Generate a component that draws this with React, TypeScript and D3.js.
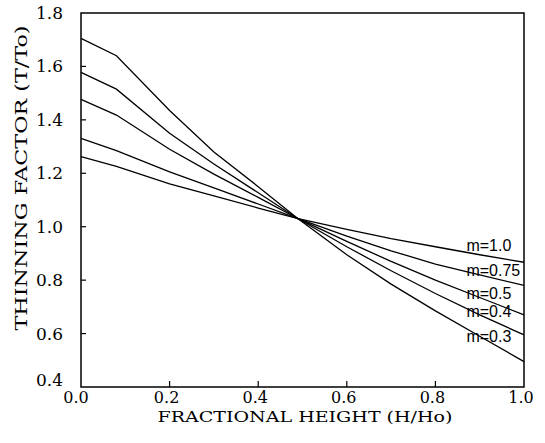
import React, { useRef, useEffect } from "react";
import * as d3 from "d3";

const heights = [0, 0.08, 0.2, 0.3, 0.4, 0.49, 0.6, 0.7, 0.8, 0.9, 1.0];

const m10 = [1.262, 1.226, 1.16, 1.115, 1.07, 1.03, 0.99, 0.955, 0.925, 0.895, 0.867];
const m075 = [1.331, 1.285, 1.205, 1.145, 1.085, 1.03, 0.965, 0.91, 0.86, 0.82, 0.78];
const m05 = [1.477, 1.418, 1.29, 1.197, 1.11, 1.03, 0.945, 0.87, 0.8, 0.735, 0.67];
const m04 = [1.578, 1.515, 1.35, 1.235, 1.127, 1.03, 0.925, 0.835, 0.75, 0.67, 0.595];
const m03 = [1.705, 1.64, 1.435, 1.28, 1.15, 1.03, 0.895, 0.785, 0.685, 0.59, 0.495];

const seriesNames = ["m=1.0", "m=0.75", "m=0.5", "m=0.4", "m=0.3"];
const labelValues = [0.93, 0.838, 0.752, 0.684, 0.59];

const xTicks = [0, 0.2, 0.4, 0.6, 0.8, 1.0];
const yTicks = [0.4, 0.6, 0.8, 1.0, 1.2, 1.4, 1.6, 1.8];

const App = () => {
  const width = 545;
  const height = 443;
  const margin = { top: 13, bottom: 56, right: 21, left: 81 };
  const plotWidth = width - margin.left - margin.right;
  const plotHeight = height - margin.top - margin.bottom;

  const svgRef = useRef<SVGSVGElement>(null);

  useEffect(() => {
    if (!svgRef.current) return;
    const svg = d3.select(svgRef.current);
    svg.selectAll("*").remove();

    const x = d3.scaleLinear([0, 1], [0, plotWidth]);
    const y = d3.scaleLinear([0.4, 1.8], [plotHeight, 0]);

    const g = svg
      .append("g")
      .attr("transform", `translate(${margin.left}, ${margin.top})`);

    // inward ticks, left and bottom only
    g.append("g")
      .selectAll("line")
      .data(yTicks.slice(1, -1))
      .join("line")
      .attr("x1", 0)
      .attr("x2", 5)
      .attr("y1", (d) => y(d))
      .attr("y2", (d) => y(d))
      .attr("stroke", "black")
      .attr("stroke-width", 1.2);

    g.append("g")
      .selectAll("line")
      .data(xTicks.slice(1, -1))
      .join("line")
      .attr("x1", (d) => x(d))
      .attr("x2", (d) => x(d))
      .attr("y1", plotHeight)
      .attr("y2", plotHeight - 6)
      .attr("stroke", "black")
      .attr("stroke-width", 1.2);

    const all = [m10, m075, m05, m04, m03];
    const line = d3
      .line<number>()
      .x((d, i) => x(heights[i]))
      .y((d) => y(d));

    g.append("g")
      .selectAll("path")
      .data(all)
      .join("path")
      .attr("d", (d) => line(d))
      .attr("fill", "none")
      .attr("stroke", "black")
      .attr("stroke-width", 1.3);

    g.append("rect")
      .attr("x", 0)
      .attr("y", 0)
      .attr("width", plotWidth)
      .attr("height", plotHeight)
      .attr("fill", "none")
      .attr("stroke", "black")
      .attr("stroke-width", 1.5);

    // curve labels
    g.append("g")
      .selectAll("text")
      .data(seriesNames)
      .join("text")
      .attr("x", x(0.87))
      .attr("y", (d, i) => y(labelValues[i]))
      .attr("dy", "0.35em")
      .attr("font-family", "Liberation Sans, Arial, sans-serif")
      .attr("font-size", 16)
      .text((d) => d);

    const serif = "DejaVu Serif, serif";

    g.append("g")
      .selectAll("text")
      .data(yTicks)
      .join("text")
      .attr("x", -18)
      .attr("y", (d) => (d === 0.4 ? y(d) - 7 : y(d)))
      .attr("dy", "0.35em")
      .attr("text-anchor", "end")
      .attr("font-family", serif)
      .attr("font-size", 17)
      .text((d) => d.toFixed(1));

    g.append("g")
      .selectAll("text")
      .data(xTicks)
      .join("text")
      .attr("x", (d) => (d === 0 ? x(d) - 5 : x(d) - 3))
      .attr("y", plotHeight + 16)
      .attr("text-anchor", "middle")
      .attr("font-family", serif)
      .attr("font-size", 16)
      .text((d) => d.toFixed(1));

    g.append("text")
      .attr("x", 224)
      .attr("y", plotHeight + 35)
      .attr("text-anchor", "middle")
      .attr("font-family", serif)
      .attr("font-size", 15.5)
      .attr("textLength", 295)
      .attr("lengthAdjust", "spacingAndGlyphs")
      .text("FRACTIONAL HEIGHT (H/Ho)");

    svg
      .append("text")
      .attr("transform", `translate(27, 178) rotate(-90)`)
      .attr("text-anchor", "middle")
      .attr("font-family", serif)
      .attr("font-size", 16)
      .attr("textLength", 305)
      .attr("lengthAdjust", "spacingAndGlyphs")
      .text("THINNING FACTOR (T/To)");
  }, []);

  return (
    <svg
      ref={svgRef}
      width={width}
      height={height}
      style={{ position: "absolute", left: 0, top: 0, background: "white" }}
    />
  );
};

export default App;
